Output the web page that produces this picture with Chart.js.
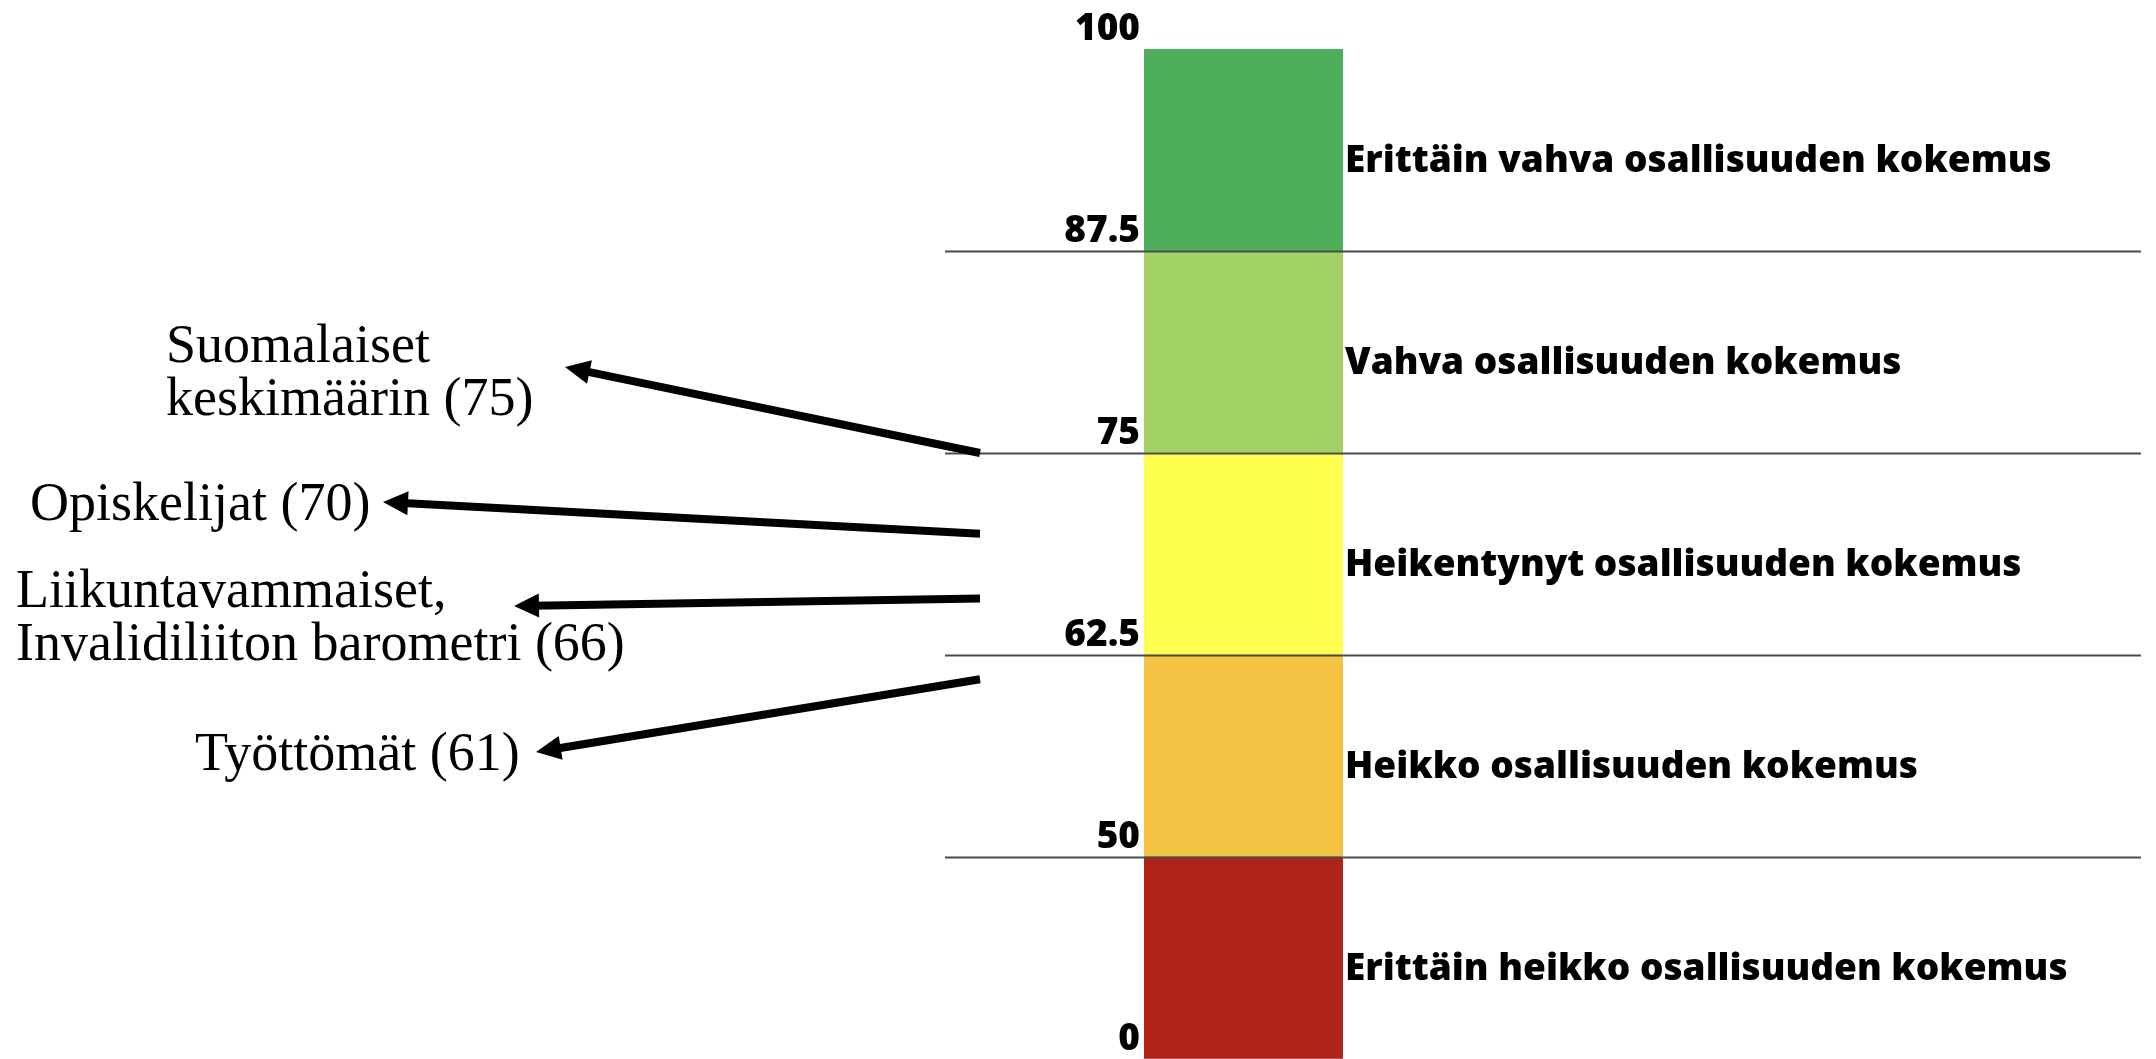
<!DOCTYPE html>
<html>
<head>
<meta charset="utf-8">
<script src="https://cdn.jsdelivr.net/npm/chart.js@4/dist/chart.umd.min.js"></script>
<style>
  html, body { margin: 0; padding: 0; background: #fff; }
  #wrap { width: 2156px; height: 1059px; position: relative; }
</style>
</head>
<body>
<div id="wrap"><canvas id="scaleChart"></canvas></div>
<script>
// band limits of the participation scale, bottom to top
const thresholds = [0, 50, 62.5, 75, 87.5, 100];
const tickLabels = ["0", "50", "62.5", "75", "87.5", "100"];
const bandNames = [
    "Erittäin heikko osallisuuden kokemus",
    "Heikko osallisuuden kokemus",
    "Heikentynyt osallisuuden kokemus",
    "Vahva osallisuuden kokemus",
    "Erittäin vahva osallisuuden kokemus"
];
const bandColors = ["#af2318", "#f4c343", "#ffff50", "#a1d064", "#4fae5b"];

// groups pointed at on the left
const groupNames = [
    ["Suomalaiset", "keskimäärin (75)"],
    ["Opiskelijat (70)"],
    ["Liikuntavammaiset,", "Invalidiliiton barometri (66)"],
    ["Työttömät (61)"]
];
const groupValues = [75, 70, 66, 61];

// where the texts sit and where the arrow heads end (page pixels)
const calloutLayout = [
    { textX: 166, textY: 362, headX: 565, headY: 367 },
    { textX: 30, textY: 520, headX: 383, headY: 502 },
    { textX: 16, textY: 607, headX: 514, headY: 606 },
    { textX: 195, textY: 770, headX: 536, headY: 752 }
];
const arrowTailX = 980;
const lineLeft = 945, lineRight = 2141;

// every band gets the same height on screen, whatever its numeric width
class BandScale extends Chart.LinearScale {
    buildTicks() {
        return thresholds.map(value => ({ value }));
    }
    getPixelForValue(value) {
        const n = thresholds.length - 1;
        let i = 0;
        while (i < n - 1 && value > thresholds[i + 1]) i++;
        const frac = (value - thresholds[i]) / (thresholds[i + 1] - thresholds[i]);
        return this.getPixelForDecimal((i + frac) / n);
    }
    getValueForPixel(pixel) {
        const n = thresholds.length - 1;
        const d = this.getDecimalForPixel(pixel) * n;
        const i = Math.min(Math.max(Math.floor(d), 0), n - 1);
        return thresholds[i] + (d - i) * (thresholds[i + 1] - thresholds[i]);
    }
}
BandScale.id = "band";
BandScale.defaults = Chart.LinearScale.defaults;
Chart.register(BandScale);

const sansBold = "'Open Sans'";
const serif = "'Liberation Serif', serif";

const overlay = {
    id: "overlay",
    afterDatasetsDraw(chart) {
        const ctx = chart.ctx;
        const y = chart.scales.y;
        const area = chart.chartArea;
        ctx.save();

        // separators between the bands
        ctx.strokeStyle = "#4a4a4a";
        ctx.lineWidth = 2;
        thresholds.slice(1, -1).forEach(t => {
            const py = Math.round(y.getPixelForValue(t)) + 0.5;
            ctx.beginPath();
            ctx.moveTo(lineLeft, py);
            ctx.lineTo(lineRight, py);
            ctx.stroke();
        });

        // band names to the right of the bar
        ctx.fillStyle = "#000";
        ctx.font = "800 37px " + sansBold;
        ctx.textAlign = "left";
        ctx.textBaseline = "middle";
        bandNames.forEach((name, i) => {
            const mid = y.getPixelForValue((thresholds[i] + thresholds[i + 1]) / 2);
            ctx.fillText(name, area.right + 2, mid + 11);
        });

        // group texts and arrows
        ctx.font = "54px " + serif;
        ctx.textBaseline = "alphabetic";
        groupNames.forEach((lines, i) => {
            const L = calloutLayout[i];
            lines.forEach((line, k) => ctx.fillText(line, L.textX, L.textY + k * 53));

            const tailY = y.getPixelForValue(groupValues[i]);
            const ang = Math.atan2(L.headY - tailY, L.headX - arrowTailX);
            const headLen = 25, headHalf = 12;
            const bx = L.headX - Math.cos(ang) * headLen * 0.8;
            const by = L.headY - Math.sin(ang) * headLen * 0.8;
            ctx.strokeStyle = "#000";
            ctx.lineWidth = 8;
            ctx.lineCap = "butt";
            ctx.beginPath();
            ctx.moveTo(arrowTailX, tailY);
            ctx.lineTo(bx, by);
            ctx.stroke();

            const backX = L.headX - Math.cos(ang) * headLen;
            const backY = L.headY - Math.sin(ang) * headLen;
            ctx.beginPath();
            ctx.moveTo(L.headX, L.headY);
            ctx.lineTo(backX + Math.sin(ang) * headHalf, backY - Math.cos(ang) * headHalf);
            ctx.lineTo(backX - Math.sin(ang) * headHalf, backY + Math.cos(ang) * headHalf);
            ctx.closePath();
            ctx.fillStyle = "#000";
            ctx.fill();
        });
        ctx.restore();
    }
};

const scaleChart = new Chart(document.getElementById("scaleChart"), {
    type: "bar",
    data: {
        labels: [""],
        datasets: bandNames.map((name, i) => ({
            label: name,
            data: [thresholds[i + 1] - thresholds[i]],
            backgroundColor: bandColors[i],
            borderWidth: 0,
            barPercentage: 1,
            categoryPercentage: 1
        }))
    },
    options: {
        responsive: true,
        maintainAspectRatio: false,
        animation: false,
        layout: { padding: { left: 945, right: 813, top: 49, bottom: 0 } },
        plugins: {
            legend: { display: false },
            tooltip: { enabled: false }
        },
        scales: {
            x: { stacked: true, display: false },
            y: {
                type: "band",
                stacked: true,
                min: 0,
                max: 100,
                afterFit: (scale) => { scale.width = 199; },
                border: { display: false },
                grid: { display: true, drawOnChartArea: false, drawTicks: true, tickLength: 4, color: "rgba(0,0,0,0)" },
                ticks: {
                    align: "end",
                    padding: 0,
                    labelOffset: -1,
                    color: "#000",
                    font: { family: sansBold, weight: "800", size: 37 },
                    callback: (value, index) => tickLabels[index]
                }
            }
        }
    },
    plugins: [overlay]
});
</script>
</body>
</html>
